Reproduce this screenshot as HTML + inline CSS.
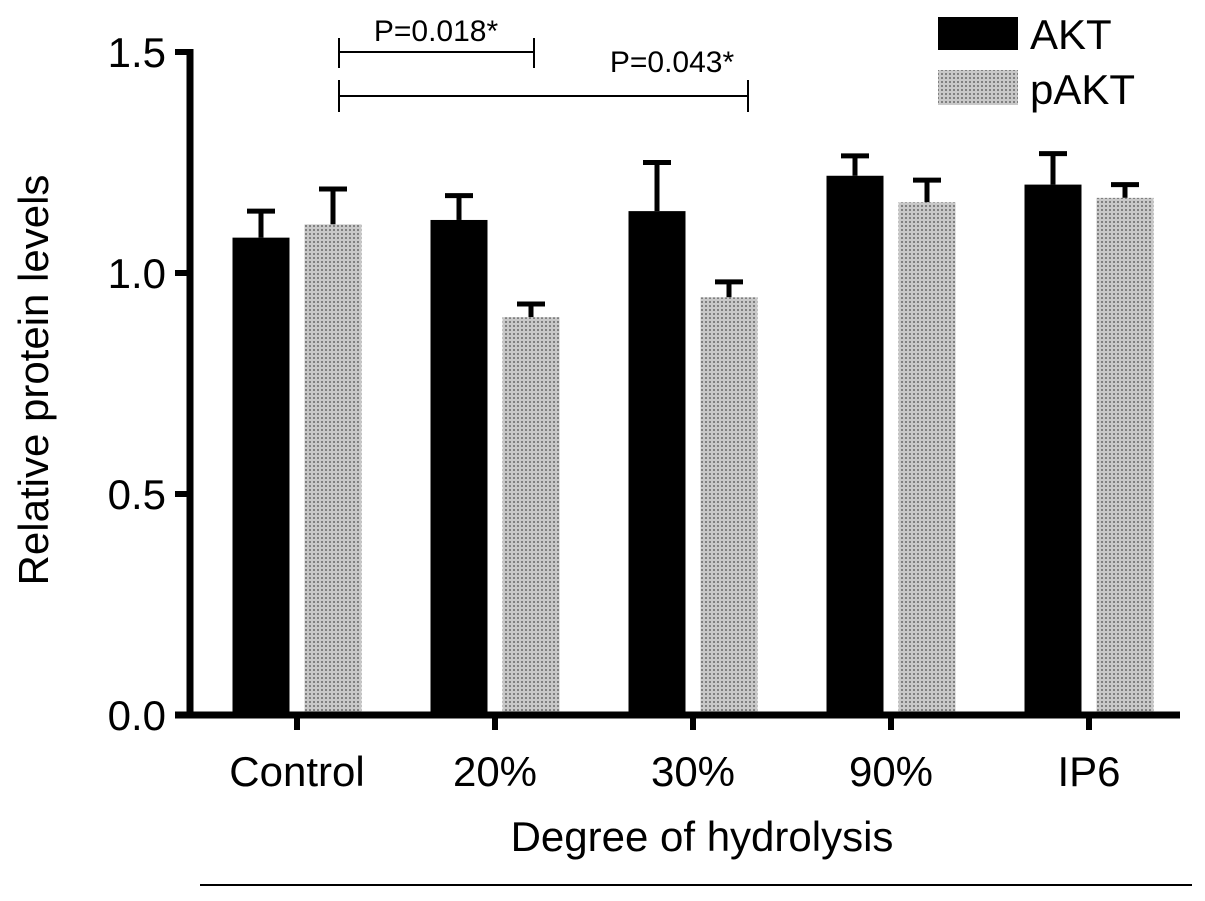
<!DOCTYPE html>
<html><head><meta charset="utf-8"><style>
body{margin:0;background:#fff}
svg{display:block;font-family:"Liberation Sans",Arial,sans-serif}
</style></head><body>
<svg id="chart" width="1205" height="901" viewBox="0 0 1205 901" xmlns="http://www.w3.org/2000/svg">
<defs>
<pattern id="dots" width="4" height="4" patternUnits="userSpaceOnUse">
<rect width="4" height="4" fill="#c8c8c8"/>
<rect x="1" y="1" width="2" height="2" fill="#808080"/>
</pattern>
</defs>
<g id="plot"></g>
</svg>
<script>
const categories = ["Control","20%","30%","90%","IP6"];
const aktValues = [1.08,1.12,1.14,1.22,1.20];
const aktErrors = [0.06,0.055,0.11,0.045,0.07];
const paktValues = [1.11,0.90,0.945,1.16,1.17];
const paktErrors = [0.08,0.03,0.035,0.05,0.03];
const yTicks = [0,0.5,1.0,1.5];
const yTickLabels = ["0.0","0.5","1.0","1.5"];

const NS="http://www.w3.org/2000/svg";
const g=document.getElementById('plot');
const x0=190,x1=1180,yBase=715,yTop=52;
function y(v){return yBase-(v/1.5)*(yBase-yTop);}
function center(i){return 297+i*198;}
function mk(tag,attrs,parent){const e=document.createElementNS(NS,tag);for(const k in attrs)e.setAttribute(k,attrs[k]);(parent||g).appendChild(e);return e;}
const bw=57,gap=15;
categories.forEach((c,i)=>{
  const cx=center(i);
  [[aktValues,aktErrors,"#000","akt"],[paktValues,paktErrors,"url(#dots)","pakt"]].forEach((s,j)=>{
    const bx=j===0?cx-gap/2-bw:cx+gap/2;
    const v=s[0][i],e=s[1][i];
    const mid=bx+bw/2;
    const eb=mk('line',{x1:mid,x2:mid,y1:y(v),y2:y(v+e),stroke:"#000","stroke-width":5});
    
    
    const cap=mk('line',{x1:mid-14,x2:mid+14,y1:y(v+e),y2:y(v+e),stroke:"#000","stroke-width":5});
    
    
    const r=mk('rect',{x:bx,y:y(v),width:bw,height:yBase-y(v),fill:s[2]});
    
    
  });
  const t=mk('line',{x1:cx,x2:cx,y1:yBase,y2:yBase+15,stroke:"#000","stroke-width":6});
  
  
  const l=mk('text',{x:cx,y:786,"text-anchor":"middle","font-size":42});
  l.textContent=c;
  
  
});
yTicks.forEach((v,i)=>{
  const t=mk('line',{x1:x0-15,x2:x0,y1:y(v),y2:y(v),stroke:"#000","stroke-width":6});
  
  
  const l=mk('text',{x:166,y:y(v)+15,"text-anchor":"end","font-size":42});
  l.textContent=yTickLabels[i];
  
  
});
const ya=mk('line',{x1:x0,x2:x0,y1:yTop-3,y2:yBase+3,stroke:"#000","stroke-width":7});


const xa=mk('line',{x1:x0-15,x2:x1,y1:yBase,y2:yBase,stroke:"#000","stroke-width":7});


</script>
<svg style="position:absolute;left:0;top:0" width="1205" height="901">
<text transform="translate(48,380) rotate(-90)" text-anchor="middle" font-size="42" font-family="Liberation Sans, sans-serif">Relative protein levels</text>
<text x="702" y="851" text-anchor="middle" font-size="42" font-family="Liberation Sans, sans-serif">Degree of hydrolysis</text>
<line x1="200" x2="1192" y1="885" y2="885" stroke="#000" stroke-width="2"/>
<g stroke="#000" stroke-width="2">
<line x1="339" x2="534" y1="52" y2="52"/><line x1="339" x2="339" y1="38" y2="68"/><line x1="534" x2="534" y1="38" y2="68"/>
</g>
<text x="436" y="41" text-anchor="middle" font-size="30" font-family="Liberation Sans, sans-serif">P=0.018*</text>
<g stroke="#000" stroke-width="2">
<line x1="339" x2="748" y1="96" y2="96"/><line x1="339" x2="339" y1="80" y2="112"/><line x1="748" x2="748" y1="80" y2="112"/>
</g>
<text x="672" y="72" text-anchor="middle" font-size="30" font-family="Liberation Sans, sans-serif">P=0.043*</text>
<g>
<rect x="938" y="17" width="80" height="33" fill="#000"/>
<text x="1030" y="49" font-size="42" font-family="Liberation Sans, sans-serif">AKT</text>
<rect x="938" y="70" width="80" height="35" fill="url(#dots)"/>
<text x="1030" y="104" font-size="42" font-family="Liberation Sans, sans-serif">pAKT</text>
</g>
</svg>
</body></html>
